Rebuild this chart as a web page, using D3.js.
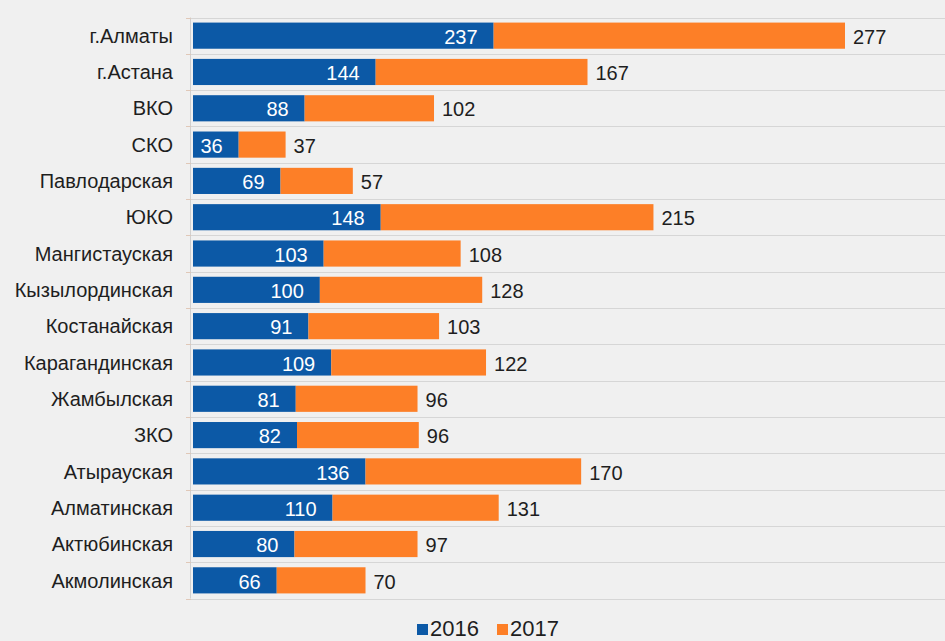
<!DOCTYPE html>
<html><head><meta charset="utf-8">
<script src="https://cdn.jsdelivr.net/npm/d3@7"></script>
<style>body{margin:0;background:#f0f0f0;}svg{display:block;}</style>
</head><body>
<svg id="c" width="945" height="641"></svg>
<script>
const categories = ["г.Алматы","г.Астана","ВКО","СКО","Павлодарская","ЮКО","Мангистауская","Кызылординская","Костанайская","Карагандинская","Жамбылская","ЗКО","Атырауская","Алматинская","Актюбинская","Акмолинская"];
const values2016 = [237,144,88,36,69,148,103,100,91,109,81,82,136,110,80,66];
const values2017 = [277,167,102,37,57,215,108,128,103,122,96,96,170,131,97,70];
const seriesNames = ["2016","2017"];
const colors = ["#0c59a6","#fd7f27"];

const svg = d3.select("#c");
svg.append("rect").attr("width",945).attr("height",641).attr("fill","#f0f0f0");
const plotLeft = 191, plotTop = 17.5, plotBottom = 598.5;
const y = d3.scaleBand().domain(categories).range([plotTop, plotBottom]).paddingInner(0.28).paddingOuter(0.14);

// gridlines between categories
const step = y.step();
const gridYs = d3.range(categories.length + 1).map(i => plotTop + i * step);
svg.append("g").selectAll("line").data(gridYs).join("line")
  .attr("x1", plotLeft).attr("x2", 945).attr("y1", d => Math.round(d)+0.5).attr("y2", d => Math.round(d)+0.5)
  .attr("stroke", "#d6d6d6").attr("stroke-width", 1);
// vertical axis line
svg.append("line").attr("x1", plotLeft-0.5).attr("x2", plotLeft-0.5).attr("y1", plotTop).attr("y2", plotBottom)
  .attr("stroke", "#d0d0d0");
// small ticks
svg.append("g").selectAll("line").data(gridYs).join("line")
  .attr("x1", plotLeft-5).attr("x2", plotLeft).attr("y1", d => Math.round(d)+0.5).attr("y2", d => Math.round(d)+0.5)
  .attr("stroke","#e0c8b8");

const data = categories.map((c,i) => ({c, a: values2016[i], b: values2017[i]}));
const bx = plotLeft + 2;
const xs = d3.scaleLinear().domain([0, 514]).range([bx, bx + 652]);

const g = svg.append("g");
g.selectAll("rect.a").data(data).join("rect")
  .attr("x", xs(0)).attr("y", d => y(d.c)).attr("height", y.bandwidth())
  .attr("width", d => xs(d.a) - xs(0)).attr("fill", colors[0]);
g.selectAll("rect.b").data(data).join("rect")
  .attr("x", d => xs(d.a)).attr("y", d => y(d.c)).attr("height", y.bandwidth())
  .attr("width", d => xs(d.a + d.b) - xs(d.a)).attr("fill", colors[1]);

const font = "'Liberation Sans', Arial, sans-serif";
g.selectAll("text.a").data(data).join("text")
  .attr("x", d => xs(d.a) - 16).attr("y", d => y(d.c) + y.bandwidth()/2 + 1)
  .attr("dy","0.36em").attr("text-anchor","end").attr("fill","#ffffff")
  .attr("font-family", font).attr("font-size", 20).text(d => d.a);
g.selectAll("text.b").data(data).join("text")
  .attr("x", d => xs(d.a + d.b) + 8).attr("y", d => y(d.c) + y.bandwidth()/2 + 1)
  .attr("dy","0.36em").attr("text-anchor","start").attr("fill","#1e1e1e")
  .attr("font-family", font).attr("font-size", 20).text(d => d.b);

// category labels
svg.append("g").selectAll("text").data(categories).join("text")
  .attr("x", 173).attr("y", d => y(d) + y.bandwidth()/2)
  .attr("dy","0.36em").attr("text-anchor","end").attr("fill","#1e1e1e")
  .attr("font-family", font).attr("font-size", 20).text(d => d);

// legend
const leg = svg.append("g");
const legX = [417, 497];
seriesNames.forEach((s,i) => {
  leg.append("rect").attr("x", legX[i]).attr("y", 624).attr("width", 11).attr("height", 11).attr("fill", colors[i]);
  leg.append("text").attr("x", legX[i] + 13).attr("y", 636).attr("fill","#1e1e1e")
    .attr("font-family", font).attr("font-size", 22).text(s);
});
</script>
</body></html>
